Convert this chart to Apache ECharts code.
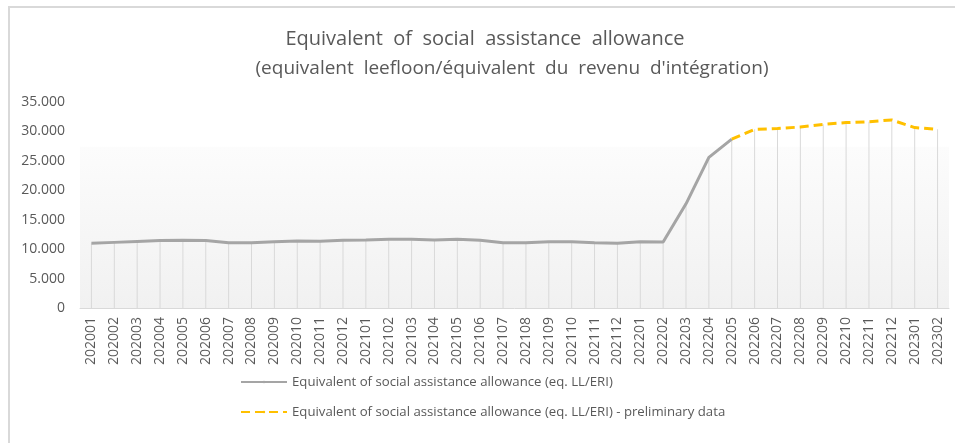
<!DOCTYPE html>
<html>
<head>
<meta charset="utf-8">
<script src="https://cdn.jsdelivr.net/npm/echarts@6/dist/echarts.min.js"></script>
<style>
  html, body { margin: 0; padding: 0; background: #fff; }
  #frame { position: absolute; left: 8px; top: 6px; width: 960px; height: 460px; border: 2px solid #d9d9d9; box-sizing: border-box; }
  #chart { position: absolute; left: 0; top: 0; width: 955px; height: 443px; }
</style>
</head>
<body>
<div id="frame"></div>
<div id="chart"></div>
<script>
// categories (year + month)
var months = [
  '202001', '202002', '202003', '202004', '202005', '202006', '202007', '202008', '202009', '202010', '202011', '202012',
  '202101', '202102', '202103', '202104', '202105', '202106', '202107', '202108', '202109', '202110', '202111', '202112',
  '202201', '202202', '202203', '202204', '202205', '202206', '202207', '202208', '202209', '202210', '202211', '202212',
  '202301', '202302'
]
// definitive figures
var official = [
  11000, 11150, 11300, 11450, 11500, 11450, 11100, 11100, 11250, 11400, 11350, 11500,
  11550, 11700, 11700, 11550, 11700, 11500, 11100, 11100, 11250, 11250, 11100, 11000,
  11250, 11200, 17700, 25600, 28700, null, null, null, null, null, null, null,
  null, null
]
// preliminary figures
var preliminary = [
  null, null, null, null, null, null, null, null, null, null, null, null,
  null, null, null, null, null, null, null, null, null, null, null, null,
  null, null, null, null, 28700, 30350, 30500, 30750, 31200, 31500, 31650, 31950,
  30650, 30350
]
var yTicks = [0, 5000, 10000, 15000, 20000, 25000, 30000, 35000]

var nameA = 'Equivalent of social assistance allowance (eq. LL/ERI)'
var nameB = 'Equivalent of social assistance allowance (eq. LL/ERI) - preliminary data'

// drop lines go from every point down to the axis
var dropValues = official.map(function (v, i) { return v != null ? v : preliminary[i] })

var font = '"Open Sans", sans-serif'
var textGray = '#595959'

var option = {
  animation: false,
  textStyle: { fontFamily: font },
  title: [
    {
      text: 'Equivalent  of  social  assistance  allowance',
      left: 480, top: 24, textAlign: 'center',
      textStyle: { fontFamily: font, fontSize: 20, fontWeight: 'normal', color: textGray }
    },
    {
      text: '(equivalent  leefloon/équivalent  du  revenu  d\'intégration)',
      left: 507, top: 54, textAlign: 'center',
      textStyle: { fontFamily: font, fontSize: 19, fontWeight: 'normal', color: textGray }
    }
  ],
  grid: {
    left: 80, right: 6, top: 102, bottom: 135,
    show: true, borderWidth: 0,
    backgroundColor: {
      type: 'linear', x: 0, y: 0, x2: 0, y2: 1,
      colorStops: [
        { offset: 0, color: '#ffffff' },
        { offset: 0.215, color: '#ffffff' },
        { offset: 0.22, color: '#fcfcfc' },
        { offset: 1, color: '#f1f1f1' }
      ]
    }
  },
  legend: {
    orient: 'vertical',
    left: 240, top: 374, padding: 0,
    itemWidth: 46, itemHeight: 3, itemGap: 14,
    data: [nameA, nameB],
    textStyle: { fontFamily: font, fontSize: 13.2, color: textGray, lineHeight: 16 }
  },
  xAxis: {
    type: 'category',
    data: months,
    axisTick: { show: false },
    axisLine: { lineStyle: { color: '#d9d9d9', width: 1 } },
    axisLabel: { rotate: 90, margin: 9, fontSize: 14, color: textGray, fontFamily: font }
  },
  yAxis: {
    type: 'value',
    min: yTicks[0], max: yTicks[yTicks.length - 1], interval: 5000,
    splitLine: { show: false },
    axisLine: { show: false },
    axisTick: { show: false },
    axisLabel: {
      margin: 15, fontSize: 14, color: textGray, fontFamily: font,
      formatter: function (v) { return String(v).replace(/\B(?=(\d{3})+(?!\d))/g, '.') }
    }
  },
  series: [
    {
      name: 'drop',
      type: 'bar',
      data: dropValues,
      barWidth: 1,
      z: 1,
      silent: true,
      itemStyle: { color: '#d9d9d9' }
    },
    {
      name: nameA,
      type: 'line',
      data: official,
      symbol: 'none',
      z: 3,
      lineStyle: { color: '#a5a5a5', width: 3 },
      itemStyle: { color: '#a5a5a5' }
    },
    {
      name: nameB,
      type: 'line',
      data: preliminary,
      symbol: 'none',
      z: 3,
      lineStyle: { color: '#ffc000', width: 3, type: [9, 5] },
      itemStyle: { color: '#ffc000' }
    }
  ]
}

var chart = echarts.init(document.getElementById('chart'))
chart.setOption(option)
</script>
</body>
</html>
